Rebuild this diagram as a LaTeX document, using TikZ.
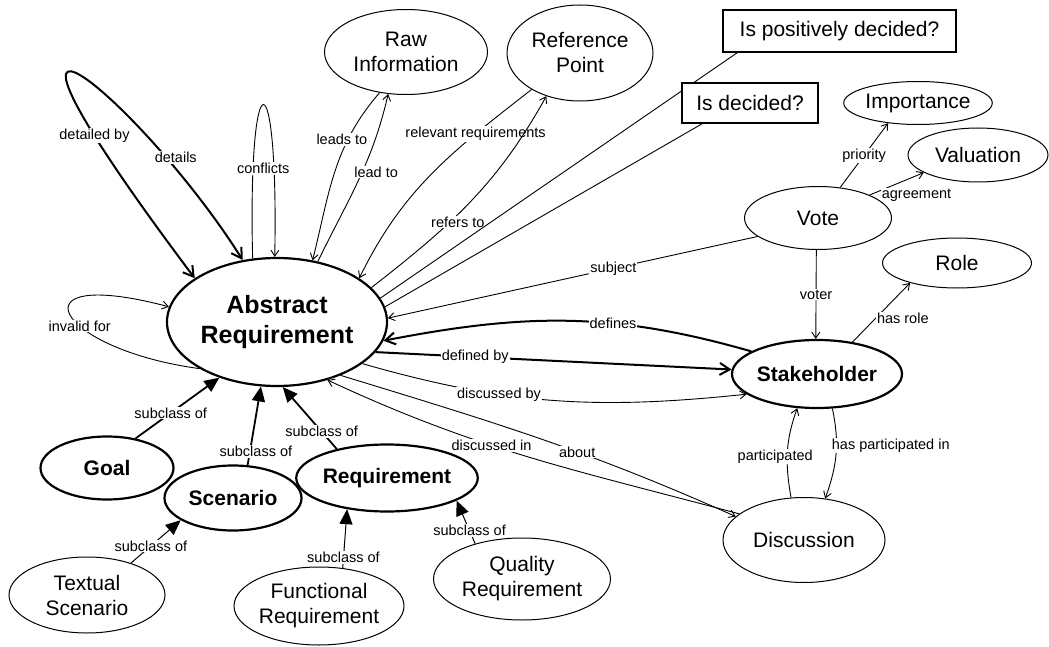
\documentclass[tikz,border=0pt]{standalone}
\usepackage{fontspec}
\setmainfont{Liberation Sans}
\usetikzlibrary{shapes.geometric,arrows.meta,backgrounds}

\begin{document}
\begin{tikzpicture}[x=1pt,y=1pt]
  \useasboundingbox (0,0) rectangle (1049,-647);
  \begin{scope}[
    every node/.style={
      ellipse,
      draw,
      fill=white,
      line width=1pt,
      inner sep=0pt,
      align=center,
      font=\fontsize{21}{25}\selectfont,
    },
    esize/.style 2 args={
      minimum width=#1pt,
      minimum height=#2pt,
    },
    keyconcept/.style={
      line width=2.2pt,
      font=\fontsize{21}{25}\selectfont\bfseries,
    },
    question/.style={
      rectangle,
      line width=1.2pt,
    },
    ]
    % Abstract Requirement
    \node [keyconcept,esize={220}{128},font=\fontsize{25}{30}\selectfont\bfseries] (AR) at (277,-322)
    {Abstract\\Requirement};

    % sources
    \node [esize={163}{85}] (RawInfo) at (406,-52) {Raw\\Information};
    \node [esize={146}{96}] (RefPoint) at (580,-53) {Reference\\Point};

    % questions
    \node [question,esize={233}{42}] (IsPos) at (839.5,-31) {Is positively decided?};
    \node [question,esize={136}{40}] (IsDec) at (750,-103) {Is decided?};

    % Vote
    \node [esize={147}{43}] (Importance) at (918,-103) {Importance};
    \node [esize={140}{54}] (Valuation) at (978,-155) {Valuation};
    \node [esize={147}{63}] (Vote) at (818,-218) {Vote};

    % Stakeholder
    \node [esize={149}{50}] (Role) at (957,-263) {Role};
    \node [keyconcept,esize={145}{68}] (Stakeholder) at (817,-374) {Stakeholder};
    \node [esize={162}{85}] (Discussion) at (804,-540) {Discussion};

    % subclasses
    \node [keyconcept,esize={133}{63}] (Goal) at (107,-468) {Goal};
    \node [keyconcept,esize={137}{65}] (Scenario) at (233,-498) {Scenario};
    \node [esize={156}{76}] (TextScen) at (87,-595) {Textual\\Scenario};
    \node [keyconcept,esize={157}{67}] (Req) at (387,-478) {Requirement};
    \node [esize={166}{78}] (FuncReq) at (319,-606) {Functional\\Requirement};
    \node [esize={177}{82}] (QualReq) at (522,-579) {Quality\\Requirement};
  \end{scope}
  \begin{scope}[
    on background layer,
    myarrow/.style={
      ->,
      >={Straight Barb[length=6pt,width=8pt]},
      line width=0.9pt,
    },
    boldarrow/.style={
      ->,
      >={Straight Barb[length=10pt,width=12pt]},
      line width=2pt,
    },
    subclassarrow/.style={
      -{Triangle[length=15pt,width=13pt]},
      line width=1.8pt,
    },
    plainline/.style={
      line width=0.9pt,
    },
    lbl/.style={
      fill=white,
      inner sep=1pt,
      font=\fontsize{14.5}{16}\selectfont,
    },
    ]
    % Path Abstract Requirement
    \draw [boldarrow,<->] (AR.152) .. controls +(-265,353) and +(-102,162) .. (AR.119)
      node [lbl,pos=0.18] {detailed by}
      node [lbl,pos=0.78,xshift=10pt] {details};
    \draw [myarrow] (AR.111) .. controls +(-5,204) and +(4,204) .. (AR.92)
      node [lbl,pos=0.5,below=57pt] {conflicts};
    \draw [myarrow] (AR.211) .. controls +(-147,20) and +(-158,42) .. (AR.172)
      node [lbl,pos=0.4] {invalid for};

    % Path Raw Information, Reference Point
    \draw [myarrow] (RawInfo.237) to [out=229,in=76] node [lbl,pos=0.3,xshift=-6pt] {leads to} (AR.60);
    \draw [myarrow] (AR.56) to [out=64,in=257] node [lbl,pos=0.55,xshift=14pt] {lead to} (RawInfo.247);
    \draw [myarrow] (RefPoint.217) to [out=218,in=64] node [lbl,pos=0.26] {relevant requirements} (AR.28);
    \draw [myarrow] (AR.20) to [out=38,in=241] node [lbl,pos=0.38,xshift=8pt] {refers to} (RefPoint.232);

    % Path questions
    \draw [plainline] (AR.13) -- ([xshift=15pt]IsPos.south west);
    \draw [plainline] (AR.8) -- ([xshift=21pt]IsDec.south west);

    % Path Vote
    \draw [myarrow] (Vote.197) -- node [lbl,pos=0.39] {subject} (AR.2);
    \draw [myarrow] (Vote.54) -- node [lbl,pos=0.5] {priority} (Importance.214);
    \draw [myarrow] (Vote.24) -- node [lbl,pos=0.2,anchor=north west,yshift=3pt] {agreement} (Valuation.198);
    \draw [myarrow] (Vote.267) -- node [lbl] {voter} (Stakeholder.92);

    % Path Stakeholder
    \draw [boldarrow] (Stakeholder.161) to [out=164,in=11] node [lbl,pos=0.37] {defines} (AR.350);
    \draw [boldarrow] (AR.343) -- node [lbl,pos=0.28] {defined by} (Stakeholder.177);
    \draw [myarrow] (AR.334) to [out=-16,in=186] node [lbl,pos=0.35] {discussed by} (Stakeholder.196);
    \draw [myarrow] (Stakeholder.42) -- node [lbl,pos=0.4,anchor=west] {has role} (Role.203);
    \draw [myarrow] (Stakeholder.294) to [out=-78,in=70]
      node [lbl,pos=0.4,anchor=west,xshift=-6pt] {has participated in} (Discussion.63);
    \draw [myarrow] (Discussion.107) to [out=100,in=250]
      node [lbl,pos=0.45,xshift=-12pt] {participated} (Stakeholder.240);

    % Path Discussion
    \draw [myarrow] (AR.320) to [out=-17,in=156] node [lbl,pos=0.6] {about} (Discussion.161);
    \draw [myarrow] (Discussion.158) to [out=165,in=-25] node [lbl,pos=0.6] {discussed in} (AR.311);

    % Path subclasses
    \draw [subclassarrow] (Goal.46) -- node [lbl,pos=0.42] {subclass of} (AR.224);
    \draw [subclassarrow] (Scenario.66) -- node [lbl,pos=0.17,xshift=6pt] {subclass of} (AR.256);
    \draw [subclassarrow] (Req.150) -- node [lbl,pos=0.28] {subclass of} (AR.275);
    \draw [subclassarrow,line width=1pt] (TextScen.36) -- node [lbl,pos=0.4] {subclass of} (Scenario.203);
    \draw [subclassarrow,line width=1pt] (FuncReq.58) -- node [lbl,pos=0.18] {subclass of} (Req.218);
    \draw [subclassarrow,line width=1pt] (QualReq.143) -- node [lbl,pos=0.3] {subclass of} (Req.342);
  \end{scope}
\end{tikzpicture}
\end{document}
